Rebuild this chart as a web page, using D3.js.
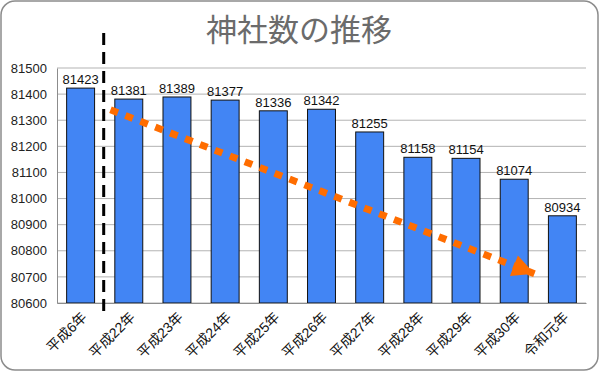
<!DOCTYPE html>
<html>
<head>
<meta charset="utf-8">
<script src="https://cdn.jsdelivr.net/npm/d3@7"></script>
<style>
  body { margin: 0; background: #fff; }
  svg { display: block; }
</style>
</head>
<body>
<svg></svg>
<script>
// shrine counts per year
const years = ["平成6年", "平成22年", "平成23年", "平成24年", "平成25年", "平成26年",
    "平成27年", "平成28年", "平成29年", "平成30年", "令和元年"];
const shrines = [81423, 81381, 81389, 81377, 81336, 81342, 81255, 81158, 81154, 81074, 80934];
const yTicks = [80600, 80700, 80800, 80900, 81000, 81100, 81200, 81300, 81400, 81500];

// annotations in data terms: [category index, value]
const dividerAt = 0.5;          // between 平成6年 and 平成22年
const trendFrom = [0.62, 81340];
const trendTo = [9.42, 80712];

const width = 600;
const height = 372;
const margin = { top: 68, right: 14, bottom: 69, left: 57 };
const font = "'Liberation Sans', Arial, 'Noto Sans CJK JP', sans-serif";

const svg = d3.select("svg")
    .attr("width", width)
    .attr("height", height);

// outer frame
svg.append("rect")
    .attr("x", 1).attr("y", 1)
    .attr("width", width - 3).attr("height", height - 3)
    .attr("rx", 14)
    .attr("fill", "#fff")
    .attr("stroke", "#8c8c8c")
    .attr("stroke-width", 1.5);

svg.append("text")
    .attr("x", 299)
    .attr("y", 41)
    .attr("text-anchor", "middle")
    .attr("font-family", "'Noto Sans CJK JP', sans-serif")
    .attr("font-size", "31px")
    .attr("fill", "#6b6b6b")
    .text("神社数の推移");

const x = d3.scaleBand()
    .domain(years)
    .range([margin.left, width - margin.right])
    .paddingInner(0.42)
    .paddingOuter(0.2);

const y = d3.scaleLinear()
    .domain([80600, 81500])
    .range([height - margin.bottom, margin.top]);

// index scale for the annotations
const xi = d3.scaleLinear()
    .domain([0, years.length - 1])
    .range([x(years[0]) + x.bandwidth() / 2, x(years[years.length - 1]) + x.bandwidth() / 2]);

// grid
svg.append("g")
    .selectAll("line")
    .data(yTicks)
    .enter()
    .append("line")
    .attr("x1", margin.left)
    .attr("x2", width - margin.right)
    .attr("y1", d => y(d))
    .attr("y2", d => y(d))
    .attr("stroke", "#b3b3b3")
    .attr("stroke-width", 1);

// y axis
const yAxis = svg.append("g")
    .attr("transform", `translate(${margin.left},0)`)
    .call(d3.axisLeft(y).tickValues(yTicks).tickSize(0).tickPadding(10).tickFormat(d3.format("d")));
yAxis.select(".domain").attr("stroke", "#8c8c8c");
yAxis.selectAll("text")
    .attr("font-family", font)
    .attr("font-size", "13px")
    .attr("fill", "#222");

// bars
svg.append("g")
    .selectAll("rect")
    .data(shrines)
    .enter()
    .append("rect")
    .attr("x", (d, i) => x(years[i]))
    .attr("y", d => y(d))
    .attr("width", x.bandwidth())
    .attr("height", d => y(80600) - y(d))
    .attr("fill", "#4285f4")
    .attr("stroke", "#111")
    .attr("stroke-width", 1);

// x axis
const xAxis = svg.append("g")
    .attr("transform", `translate(0,${y(80600)})`)
    .call(d3.axisBottom(x).tickSize(0).tickPadding(0));
xAxis.select(".domain").attr("stroke", "#8c8c8c");
xAxis.selectAll("text")
    .attr("font-family", font)
    .attr("font-size", "14px")
    .attr("fill", "#111")
    .attr("text-anchor", "end")
    .attr("dy", 0)
    .attr("transform", "translate(7,15) rotate(-45)");

// value labels
svg.append("g")
    .selectAll("text")
    .data(shrines)
    .enter()
    .append("text")
    .attr("x", (d, i) => x(years[i]) + x.bandwidth() / 2)
    .attr("y", d => y(d) - 4)
    .attr("text-anchor", "middle")
    .attr("font-family", font)
    .attr("font-size", "13px")
    .attr("fill", "#111")
    .text(d => d);

// dashed divider
svg.append("line")
    .attr("x1", xi(dividerAt) - 1)
    .attr("x2", xi(dividerAt) - 1)
    .attr("y1", 33)
    .attr("y2", 318)
    .attr("stroke", "#000")
    .attr("stroke-width", 3)
    .attr("stroke-dasharray", "12 7");

// trend arrow
svg.append("defs").append("marker")
    .attr("id", "head")
    .attr("viewBox", "0 0 10 10")
    .attr("refX", 10)
    .attr("refY", 5)
    .attr("markerUnits", "userSpaceOnUse")
    .attr("markerWidth", 25)
    .attr("markerHeight", 22)
    .attr("orient", "auto")
    .append("path")
    .attr("d", "M0,0L10,5L0,10Z")
    .attr("fill", "#ff6d00");

svg.append("line")
    .attr("x1", xi(trendFrom[0]))
    .attr("y1", y(trendFrom[1]))
    .attr("x2", xi(trendTo[0]))
    .attr("y2", y(trendTo[1]))
    .attr("stroke", "#ff6d00")
    .attr("stroke-width", 7)
    .attr("stroke-dasharray", "8 8")
    .attr("marker-end", "url(#head)");
</script>
</body>
</html>
